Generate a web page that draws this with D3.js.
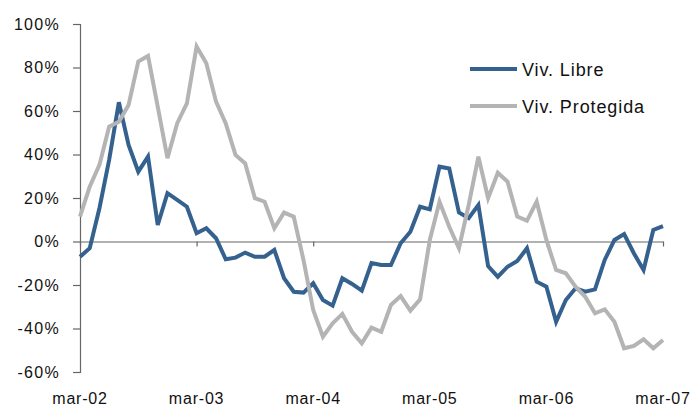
<!DOCTYPE html>
<html>
<head>
<meta charset="utf-8">
<script src="https://cdn.jsdelivr.net/npm/d3@7"></script>
<style>
  body { margin: 0; background: #fff; }
  svg text { font-family: "Liberation Sans", Arial, sans-serif; fill: #111; }
</style>
</head>
<body>
<div id="chart"></div>
<script>
// monthly % change, mar-02 .. mar-07
const libre = [
  -7.0, -3.1, 15.3, 37.5, 64.0, 44.4, 32.1, 39.0, 7.6, 22.2, 19.1, 16.0,
  3.8, 6.1, 1.5, -8.2, -7.4, -5.1, -7.0, -7.0, -3.9, -16.9, -23.1, -23.5,
  -19.2, -26.9, -29.5, -16.9, -19.5, -22.6, -9.9, -10.8, -10.8, -0.8, 4.5, 16.0,
  14.8, 34.4, 33.6, 13.3, 10.7, 16.8, -11.3, -16.2, -11.6, -9.0, -3.1, -18.5,
  -20.8, -36.9, -26.9, -21.5, -23.1, -22.0, -8.5, 0.7, 3.4, -5.4, -13.1, 5.3,
  7.1
]
const protegida = [
  11.4, 25.2, 35.2, 52.8, 55.1, 62.8, 82.7, 85.3, 62.0, 38.3, 54.3, 63.5,
  89.6, 81.9, 64.3, 54.3, 39.8, 35.9, 19.9, 18.3, 6.1, 13.3, 11.4, -8.5,
  -31.5, -43.8, -37.6, -33.3, -41.5, -46.8, -39.6, -41.5, -29.2, -25.1, -31.8, -26.6,
  0.7, 18.3, 6.8, -3.1, 16.8, 39.0, 19.9, 31.6, 27.5, 11.5, 9.6, 18.3,
  0.7, -13.1, -14.6, -20.8, -25.4, -33.0, -31.2, -36.9, -49.1, -48.0, -45.0, -49.1,
  -45.3
]
const xTickIdx = [0, 12, 24, 36, 48, 60]
const xTickLabels = ["mar-02", "mar-03", "mar-04", "mar-05", "mar-06", "mar-07"]
const yTicks = [-60, -40, -20, 0, 20, 40, 60, 80, 100]
const seriesNames = ["Viv. Libre", "Viv. Protegida"]
const seriesColors = ["#35618f", "#b4b4b4"]

const W = 693, H = 406
const svg = d3.select("#chart").append("svg")
  .attr("width", W).attr("height", H)

const x = d3.scaleLinear().domain([0, 60]).range([80, 663])
const y = d3.scaleLinear().domain([-60, 100]).range([372, 24])

// y axis
const yAxis = svg.append("g")
  .attr("transform", "translate(80,0)")
  .call(d3.axisLeft(y).tickValues(yTicks).tickSize(7).tickPadding(13)
    .tickFormat(d => d + "%"))
yAxis.select(".domain").attr("stroke", "#666").attr("stroke-width", 1.2)
yAxis.selectAll(".tick line").attr("stroke", "#666").attr("stroke-width", 1.2)
yAxis.selectAll("text")
  .attr("font-size", 16).attr("letter-spacing", "1.3px")
  .attr("fill", "#111")

// x axis at zero
const xAxis = svg.append("g")
  .attr("transform", `translate(0,${y(0)})`)
  .call(d3.axisBottom(x).tickValues(xTickIdx).tickSize(5).tickSizeOuter(0)
    .tickFormat((d, i) => ""))
xAxis.select(".domain").attr("stroke", "#666").attr("stroke-width", 1.2)
xAxis.selectAll(".tick line").attr("stroke", "#666").attr("stroke-width", 1.2)

svg.append("g").selectAll("text")
  .data(xTickIdx)
  .join("text")
    .attr("x", d => x(d))
    .attr("y", 404)
    .attr("text-anchor", "middle")
    .attr("font-size", 16)
    .attr("letter-spacing", "0.8px")
    .text((d, i) => xTickLabels[i])

// lines
const line = d3.line()
  .x((d, i) => x(i))
  .y(d => y(d))

;[libre, protegida].forEach((s, k) => {
  svg.append("path")
    .datum(s)
    .attr("fill", "none")
    .attr("stroke", seriesColors[k])
    .attr("stroke-width", 4)
    .attr("stroke-linejoin", "miter")
    .attr("d", line)
})

// legend
const legend = svg.append("g")
seriesNames.forEach((name, k) => {
  const ly = 69 + k * 37
  legend.append("line")
    .attr("x1", 470).attr("x2", 517)
    .attr("y1", ly).attr("y2", ly)
    .attr("stroke", seriesColors[k])
    .attr("stroke-width", 4)
  legend.append("text")
    .attr("x", 522).attr("y", ly + 7)
    .attr("font-size", 18)
    .attr("letter-spacing", "0.9px")
    .text(name)
})
</script>
</body>
</html>
